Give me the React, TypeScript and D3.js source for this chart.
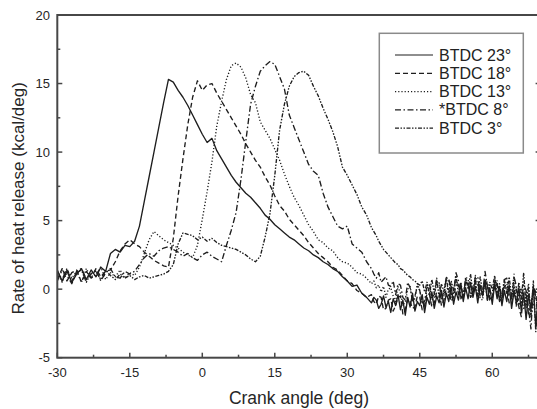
import React from "react";
import * as d3 from "d3";

// Crank angle grid (deg): 1-deg samples up to 34, then 0.5-deg samples from 35 to 70
const anglesMain = d3.range(-30, 35, 1);
const anglesTail = d3.range(35, 70.5, 0.5);
const angles = anglesMain.concat(anglesTail);

const btdc23 = [
  // -30 .. 34
  1.4, 0.6, 1.3, 0.5, 1.1, 1.5, 0.7, 1.4, 0.9, 1.6, 1.3,
  2.6, 2.9, 2.7, 3.2, 3.1, 3.5,
  4.6, 6.4, 8.2, 10.0, 11.8, 13.6, 15.3,
  15.1, 14.5, 14.0, 13.4, 12.7, 12.0, 11.3, 10.7, 11.0, 10.1, 9.5, 8.9, 8.3, 7.8, 7.4, 7.0,
  6.7, 6.3, 5.9, 5.4, 5.1, 4.7, 4.4, 4.1, 3.8, 3.6, 3.3, 3.0, 2.8, 2.5, 2.3, 2.0, 1.8, 1.5,
  1.3, 0.9, 0.6, 0.2, 0.3, -0.3, -0.6,
  // 35 .. 70 (0.5 step)
  -1.0, -0.6, -0.8, -1.4, -1.1, -0.5, -1.3, -0.9, -1.7, -0.7,
  -1.2, -0.4, -1.5, -0.8, -1.9, -0.6, -1.3, -0.3, -1.6, -0.9,
  -1.2, -0.4, -1.7, -0.6, -1.1, -0.2, -1.4, -0.5, -1.0, -0.1,
  -1.3, -0.3, -0.9, 0.2, -1.1, -0.2, -0.8, 0.4, -0.9, 0.1,
  -0.7, 0.5, -0.6, 0.2, -1.0, 0.3, -0.5, 0.6, -0.8, 0.1,
  -1.1, 0.4, -0.7, 0.2, -1.2, -0.1, -0.9, 0.3, -1.4, -0.2,
  -1.0, 0.1, -1.6, -0.3, -2.2, -0.4, -1.5, 0.2, -2.8, -0.6,
  -1.3,
];

const btdc18 = [
  0.7, 1.5, 0.6, 1.2, 1.4, 0.5, 1.3, 0.8, 1.5, 0.9, 1.3,
  1.4, 2.0, 2.8, 3.3, 3.6, 3.3, 3.1, 2.7, 2.4, 2.1, 1.9, 1.7, 1.6,
  3.7, 6.8, 9.5, 12.0, 14.0, 15.2, 14.5, 14.9, 15.0, 14.3, 13.7, 13.1, 12.5, 11.9, 11.3, 10.6,
  10.0, 9.4, 8.9, 8.2, 7.6, 6.8, 6.1, 5.7, 5.1, 4.7, 4.3, 3.9, 3.4, 3.0, 2.6, 2.3, 2.0, 1.6,
  1.4, 1.0, 0.6, 0.4, -0.1, -0.3, -0.6,
  -0.4, -0.9, -1.1, -0.5, -0.6, -1.5, -1.4, -0.8, -0.7, -1.6,
  -1.2, -0.6, -0.5, -1.8, -1.5, -0.7, -0.9, -1.4, -1.3, -0.5,
  -0.6, -1.5, -1.2, -0.3, -0.4, -1.3, -1.0, -0.2, -0.3, -1.2,
  -0.8, 0.1, 0.0, -0.9, -0.6, 0.3, 0.3, -0.7, -0.4, 0.5,
  0.4, -0.6, -0.3, 0.6, 0.5, -0.5, -0.5, 0.7, 0.2, -0.8,
  -0.7, 0.4, 0.3, -0.9, -0.6, 0.2, 0.1, -1.0, -1.1, 0.0,
  0.0, -1.3, -2.0, -0.2, -0.4, -1.8, -1.2, 0.1, -0.2, -2.5,
  -1.6,
];

const btdc13 = [
  1.2, 0.5, 1.4, 0.8, 1.3, 0.5, 1.5, 0.8, 1.1, 1.6, 0.7, 1.2, 0.9, 1.4, 0.8, 1.2, 1.0,
  1.6, 2.6, 3.6, 4.2, 3.9, 3.6, 3.4, 3.2, 3.0, 2.7, 2.5, 2.3,
  3.2, 5.1, 7.1, 9.3, 11.9, 13.7, 15.3, 16.3, 16.5, 16.2, 15.4, 14.2, 13.6, 12.2, 11.6, 11.0,
  10.2, 9.4, 8.4, 7.5, 6.7, 6.1, 5.4, 4.7, 4.2, 3.6, 3.4, 3.0, 2.8, 2.3, 2.0, 1.9, 1.6, 1.2,
  1.1, 0.8,
  0.4, 0.6, 0.1, 0.3, -0.2, 0.2, -0.6, 0.0, 0.1, -0.5,
  -0.9, 0.2, -0.3, -1.1, -1.0, 0.0, 0.2, -0.8, -0.7, 0.4,
  -0.1, -0.9, -1.2, 0.1, 0.3, -0.8, -0.6, 0.5, 0.4, -0.4,
  -0.5, 0.7, 0.6, -0.6, -0.3, 0.8, 0.2, -0.5, -0.6, 0.9,
  0.7, -0.3, -0.4, 1.0, 0.3, -0.7, -0.8, 0.6, 0.5, -0.2,
  -0.3, 0.8, 0.6, -0.7, -0.9, 0.5, 0.4, -0.4, -0.5, 1.1,
  -1.3, -0.2, 0.1, -1.5, -0.8, 0.4, -1.9, -1.2, -0.3, 0.3,
  -1.1,
];

const btdc8 = [
  0.6, 1.4, 1.0, 0.4, 1.3, 1.5, 0.7, 1.1, 1.4, 0.6, 1.2, 1.5, 0.9, 0.8, 1.3, 1.1,
  1.3, 1.8, 2.3, 2.6, 2.4, 2.8, 3.0, 3.1, 2.9, 2.7, 2.4, 2.6, 2.3, 2.1, 2.5, 2.7, 2.4, 2.2, 2.0,
  3.2, 4.3, 5.6, 8.0, 10.8, 13.5, 14.8, 15.9, 16.3, 16.6, 16.4, 15.5, 14.6, 12.7, 11.8,
  10.9, 10.0, 9.1, 8.6, 8.3, 7.0, 6.0, 5.3, 4.6, 4.4, 4.6, 3.3, 3.0, 2.7, 2.0,
  1.5, 1.1, 0.8, 1.2, 0.5, 0.7, 0.9, 0.3, 0.2, 0.6,
  -0.4, 0.4, 0.3, -0.6, -0.8, 0.5, 0.1, -0.9, -0.5, 0.2,
  -0.1, -1.0, -0.9, 0.3, 0.4, -0.6, -0.4, 0.6, 0.5, -0.7,
  -0.2, 0.8, 0.8, -0.4, -0.3, 1.2, 0.6, -0.6, -0.5, 0.7,
  0.3, -0.4, -0.2, 0.9, 0.9, -0.3, -0.4, 1.3, 0.2, -0.7,
  -0.6, 0.6, 0.4, -0.8, -0.3, 0.7, 0.8, -0.5, -0.7, 0.9,
  0.2, -1.1, -1.0, 0.3, -0.1, -1.4, -2.9, 0.2, -0.5, -1.7,
  -1.3,
];

const btdc3 = [
  1.3, 0.7, 1.5, 0.6, 1.2, 1.4, 0.5, 1.2, 1.3, 0.7, 1.4, 1.0, 0.7, 1.1, 0.8, 1.0, 0.7, 0.9,
  1.0, 0.8, 0.9, 1.0, 1.1,
  1.3, 1.8, 3.3, 4.1, 4.0, 3.9, 3.6, 3.8, 3.5, 3.7, 3.4, 3.2, 3.1, 3.0, 2.9, 2.7, 2.5, 2.2, 2.0,
  2.4, 3.8, 5.5, 8.3, 11.6, 13.5, 14.8, 15.5, 15.8, 15.9, 15.6, 14.8, 14.1, 13.2, 12.4,
  11.5, 10.4, 8.9, 8.3, 7.6, 6.9, 6.0, 5.4,
  4.5, 4.2, 3.9, 3.5, 3.2, 2.9, 2.7, 2.5, 2.3, 2.1,
  1.9, 1.8, 1.5, 1.4, 1.2, 1.0, 0.9, 0.7, 0.6, 0.4,
  0.3, 0.6, -0.2, 0.5, -0.4, 0.7, -0.3, 0.8, -0.6, 0.4,
  -0.2, 0.9, -0.5, 0.6, -0.1, 1.0, -0.4, 0.5, -0.7, 0.8,
  0.0, 1.1, -0.3, 0.7, -0.6, 0.9, -0.2, 0.6, -0.8, 0.5,
  0.0, 1.0, -0.5, 0.4, -0.9, 0.7, -0.3, 0.9, -0.6, 0.3,
  -1.2, 0.5, -0.8, 1.2, -1.4, 0.2, -2.0, 0.6, -3.1, -0.4,
  -1.0,
];

const seriesLabels = ["BTDC 23°", "BTDC 18°", "BTDC 13°", "*BTDC 8°", "BTDC 3°"];
const seriesValues = [btdc23, btdc18, btdc13, btdc8, btdc3];
const seriesDash = ["none", "5,3", "1.2,2", "6,2.5,1.5,2.5", "4,1.5,1.5,1.5,1.5,1.5"];

const xTicks = [-30, -15, 0, 15, 30, 45, 60];
const xMinorTicks = [-22.5, -7.5, 7.5, 22.5, 37.5, 52.5, 67.5];
const yTicks = [-5, 0, 5, 10, 15, 20];
const yMinorTicks = [-2.5, 2.5, 7.5, 12.5, 17.5];

export default function App() {
  const W = 537;
  const H = 409;
  const left = 57.3;
  const right = 540.6;
  const top = 15;
  const bottom = 357.7;
  const x = d3.scaleLinear().domain([-30, 70]).range([left, right]);
  const y = d3.scaleLinear().domain([-5, 20]).range([bottom, top]);

  const font = "Arial, 'Liberation Sans', Helvetica, sans-serif";
  const axisColor = "#474747";
  const lineColor = "#1e1e1e";

  const makeLine = (vals: number[]) =>
    d3
      .line<number>()
      .defined((d, i) => d !== undefined && angles[i] !== undefined)
      .x((_, i) => x(angles[i]))
      .y((d) => y(d))(vals) || "";

  const legendX = 379.3;
  const legendY = 33.3;
  const legendW = 144;
  const legendH = 119.7;
  const legendRow0 = 55;
  const legendStep = 18.3;

  return (
    <svg
      width={W}
      height={H}
      style={{ position: "absolute", left: 0, top: 0, background: "#fff" }}
      fontFamily={font}
    >
      <rect x={0} y={0} width={W} height={H} fill="#fff" />
      <defs>
        <clipPath id="plotClip">
          <rect x={left} y={top} width={right - left} height={bottom - top} />
        </clipPath>
      </defs>

      <g clipPath="url(#plotClip)">
        {seriesValues.map((vals, k) => (
          <path
            key={k}
            d={makeLine(vals)}
            fill="none"
            stroke={lineColor}
            strokeWidth={1.35}
            strokeDasharray={seriesDash[k]}
            strokeLinejoin="round"
          />
        ))}
      </g>

      <rect
        x={left}
        y={top}
        width={right - left}
        height={bottom - top}
        fill="none"
        stroke={axisColor}
        strokeWidth={2}
      />

      {xTicks.map((t) => (
        <g key={"xt" + t}>
          <line x1={x(t)} x2={x(t)} y1={bottom} y2={bottom - 5} stroke={axisColor} strokeWidth={1.5} />
          <text x={x(t)} y={377} textAnchor="middle" fontSize={13} fill="#262626">
            {t}
          </text>
        </g>
      ))}
      {xMinorTicks.map((t) => (
        <line key={"xm" + t} x1={x(t)} x2={x(t)} y1={bottom} y2={bottom - 3} stroke={axisColor} strokeWidth={1.5} />
      ))}

      {yTicks.map((t) => (
        <g key={"yt" + t}>
          <line x1={left} x2={left + 5} y1={y(t)} y2={y(t)} stroke={axisColor} strokeWidth={1.5} />
          <line x1={right} x2={right - 5} y1={y(t)} y2={y(t)} stroke={axisColor} strokeWidth={1.5} />
          <text x={50} y={y(t) + 4.6} textAnchor="end" fontSize={13} fill="#262626">
            {t}
          </text>
        </g>
      ))}
      {yMinorTicks.map((t) => (
        <g key={"ym" + t}>
          <line x1={left} x2={left + 3} y1={y(t)} y2={y(t)} stroke={axisColor} strokeWidth={1.5} />
          <line x1={right} x2={right - 3} y1={y(t)} y2={y(t)} stroke={axisColor} strokeWidth={1.5} />
        </g>
      ))}

      <text x={(left + right) / 2} y={404} textAnchor="middle" fontSize={17.5} fill="#262626">
        Crank angle (deg)
      </text>
      <text
        transform={`translate(24, ${(top + bottom) / 2 + 12}) rotate(-90)`}
        textAnchor="middle"
        fontSize={17}
        fill="#262626"
      >
        Rate of heat release (kcal/deg)
      </text>

      <rect
        x={legendX}
        y={legendY}
        width={legendW}
        height={legendH}
        fill="#fff"
        stroke="#8a8a8a"
        strokeWidth={1.5}
      />
      {seriesLabels.map((lab, k) => {
        const ly = legendRow0 + k * legendStep;
        return (
          <g key={"lg" + k}>
            <line
              x1={395}
              x2={433}
              y1={ly}
              y2={ly}
              stroke={lineColor}
              strokeWidth={1.2}
              strokeDasharray={seriesDash[k]}
            />
            <text x={439} y={ly + 5.5} fontSize={16} fill="#222">
              {lab}
            </text>
          </g>
        );
      })}
    </svg>
  );
}
